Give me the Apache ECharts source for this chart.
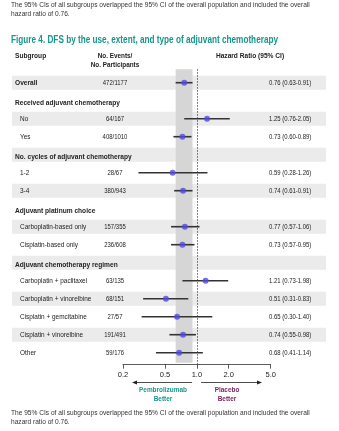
<!DOCTYPE html>
<html><head><meta charset="utf-8">
<script src="https://cdn.jsdelivr.net/npm/echarts@6/dist/echarts.min.js"></script>
<style>html,body{margin:0;padding:0;background:#fff}#c{width:339px;height:431px}</style>
</head><body><div id="c"></div>
<script>
const rowLabels = ['Overall','Received adjuvant chemotherapy','No','Yes','No. cycles of adjuvant chemotherapy','1-2','3-4','Adjuvant platinum choice','Carboplatin-based only','Cisplatin-based only','Adjuvant chemotherapy regimen','Carboplatin + paclitaxel','Carboplatin + vinorelbine','Cisplatin + gemcitabine','Cisplatin + vinorelbine','Other'];
const rowType = ['main','head','sub','sub','head','sub','sub','head','sub','sub','head','sub','sub','sub','sub','sub'];
const events = ['472/1177','', '64/167','408/1010','', '28/67','380/943','', '157/355','236/608','', '63/135','68/151','27/57','191/491','59/176'];
const hr = [0.76,null,1.25,0.73,null,0.59,0.74,null,0.77,0.73,null,1.21,0.51,0.65,0.74,0.68];
const ciLow = [0.63,null,0.76,0.60,null,0.28,0.61,null,0.57,0.57,null,0.73,0.31,0.30,0.55,0.41];
const ciHigh = [0.91,null,2.05,0.89,null,1.26,0.91,null,1.06,0.95,null,1.98,0.83,1.40,0.98,1.14];
const tickValues = [0.2,0.5,1.0,2.0,5.0];
const nullLine = [1.0];

const F = '"Liberation Sans",Arial,sans-serif';
const TEAL = '#17968a', PLUM = '#7a1f5c', DOT = '#5048e0', INK = '#222';

const chart = echarts.init(document.getElementById('c'), null, {renderer:'canvas'});

const idx = rowLabels.map((_, i) => i);
const hrText = hr.map((v, i) => v == null ? '' : v.toFixed(2) + ' (' + ciLow[i].toFixed(2) + '-' + ciHigh[i].toFixed(2) + ')');

function txt(x, y, text, font, sx, align, fill) {
  return {type: 'text', x: x, y: y, scaleX: sx, style: {x: 0, y: 0, text: text, font: font, align: align || 'left', verticalAlign: 'middle', fill: fill || INK}};
}

const option = {
  animation: false,
  backgroundColor: '#fff',
  grid: {left: 123, right: 68.3, top: 73.7, height: 288},
  xAxis: {
    type: 'log', logBase: 10, min: 0.2, max: 5, offset: 3,
    axisLine: {show: true, onZero: false, lineStyle: {color: '#333', width: 0.8}},
    axisTick: {show: true, length: 4, customValues: tickValues, lineStyle: {color: '#333', width: 0.8}},
    axisLabel: {customValues: tickValues, formatter: v => Number(v).toFixed(1), fontSize: 7.5, color: INK, fontFamily: F, margin: 6},
    splitLine: {show: false}, minorTick: {show: false}
  },
  yAxis: {type: 'value', inverse: true, min: -0.5, max: rowLabels.length - 0.5, show: false, splitLine: {show: false}},
  series: [
    {
      type: 'custom', name: 'stripes', z: 0, silent: true,
      data: idx.filter(i => i % 2 === 0).map(i => [0.2, i]),
      renderItem: (params, api) => {
        const p = api.coord([api.value(0), api.value(1)]);
        return {type: 'rect', shape: {x: 12, y: p[1] - 7, width: 314, height: 14}, style: {fill: '#ebebeb'}};
      }
    },
    {
      type: 'custom', name: 'band', z: 1, silent: true,
      data: [[ciLow[0], 0, ciHigh[0]]],
      renderItem: (params, api) => {
        const a = api.coord([api.value(0), 0]);
        const b = api.coord([api.value(2), 0]);
        const cs = params.coordSys;
        return {type: 'rect', shape: {x: a[0], y: cs.y - 4.5, width: b[0] - a[0], height: cs.height + 5.5}, style: {fill: '#d6d6d6'}};
      }
    },
    {
      type: 'custom', name: 'nullLine', z: 2, silent: true,
      data: nullLine.map(v => [v, 0]),
      renderItem: (params, api) => {
        const a = api.coord([api.value(0), 0]);
        const cs = params.coordSys;
        const x = Math.round(a[0]) + 0.5;
        return {type: 'line', shape: {x1: x, y1: cs.y - 4.5, x2: x, y2: cs.y + cs.height + 3}, style: {stroke: '#333', lineWidth: 0.8, lineDash: [1.5, 1.5]}};
      }
    },
    {
      type: 'custom', name: 'ci', z: 3, silent: true,
      data: idx.filter(i => hr[i] != null).map(i => [ciLow[i], i, ciHigh[i]]),
      renderItem: (params, api) => {
        const a = api.coord([api.value(0), api.value(1)]);
        const b = api.coord([api.value(2), api.value(1)]);
        return {type: 'line', shape: {x1: a[0], y1: a[1], x2: b[0], y2: b[1]}, style: {stroke: '#333', lineWidth: 1.6}};
      }
    },
    {
      type: 'scatter', name: 'hr', z: 4, symbol: 'circle', symbolSize: 6,
      itemStyle: {color: DOT},
      data: idx.filter(i => hr[i] != null).map(i => [hr[i], i])
    },
    {
      type: 'custom', name: 'text', z: 5, silent: true,
      data: idx.map(i => [0.2, i]),
      renderItem: (params, api) => {
        const i = api.value(1);
        const p = api.coord([0.2, i]);
        const y = p[1];
        const t = rowType[i];
        const kids = [];
        if (t === 'head') kids.push(txt(15, y + 2.5, rowLabels[i], 'bold 7.5px ' + F, 0.88));
        else if (t === 'main') kids.push(txt(15, y, rowLabels[i], 'bold 7.5px ' + F, 0.88));
        else kids.push(txt(20, y, rowLabels[i], '7px ' + F, 0.92));
        if (events[i]) kids.push(txt(115, y, events[i], '7px ' + F, 0.85, 'center'));
        if (hrText[i]) kids.push(txt(269, y, hrText[i], '7px ' + F, 0.85, 'left'));
        return {type: 'group', children: kids};
      }
    }
  ],
  graphic: [
    txt(11, 5, 'The 95% CIs of all subgroups overlapped the 95% CI of the overall population and included the overall', '6.6px ' + F, 1, 'left', '#333'),
    txt(11, 14, 'hazard ratio of 0.76.', '6.6px ' + F, 1, 'left', '#333'),
    txt(11, 40, 'Figure 4. DFS by the use, extent, and type of adjuvant chemotherapy', 'bold 10px ' + F, 0.82, 'left', TEAL),
    txt(15, 56, 'Subgroup', 'bold 7.5px ' + F, 0.88),
    txt(115, 56, 'No. Events/', 'bold 7.5px ' + F, 0.85, 'center'),
    txt(115, 65, 'No. Participants', 'bold 7.5px ' + F, 0.85, 'center'),
    txt(250, 56, 'Hazard Ratio (95% CI)', 'bold 7.5px ' + F, 0.88, 'center'),
    {type: 'line', shape: {x1: 192, y1: 382.5, x2: 136, y2: 382.5}, style: {stroke: '#222', lineWidth: 0.8}},
    {type: 'polygon', shape: {points: [[132, 382.5], [137, 380.5], [137, 384.5]]}, style: {fill: '#222'}},
    {type: 'line', shape: {x1: 201, y1: 382.5, x2: 258, y2: 382.5}, style: {stroke: '#222', lineWidth: 0.8}},
    {type: 'polygon', shape: {points: [[262, 382.5], [257, 380.5], [257, 384.5]]}, style: {fill: '#222'}},
    txt(163, 390, 'Pembrolizumab', 'bold 7.5px ' + F, 0.86, 'center', TEAL),
    txt(163, 398.5, 'Better', 'bold 7.5px ' + F, 0.86, 'center', TEAL),
    txt(227, 390, 'Placebo', 'bold 7.5px ' + F, 0.86, 'center', PLUM),
    txt(227, 398.5, 'Better', 'bold 7.5px ' + F, 0.86, 'center', PLUM),
    txt(11, 413, 'The 95% CIs of all subgroups overlapped the 95% CI of the overall population and included the overall', '6.6px ' + F, 1, 'left', '#333'),
    txt(11, 422, 'hazard ratio of 0.76.', '6.6px ' + F, 1, 'left', '#333')
  ]
};
try {
  chart.setOption(option);
} catch (e) {
  const d = document.createElement('pre');
  d.style.cssText = 'position:absolute;left:0;top:0;font-size:7px;color:red;white-space:pre-wrap;width:339px';
  d.textContent = String(e && e.stack || e);
  document.body.appendChild(d);
}
</script></body></html>
